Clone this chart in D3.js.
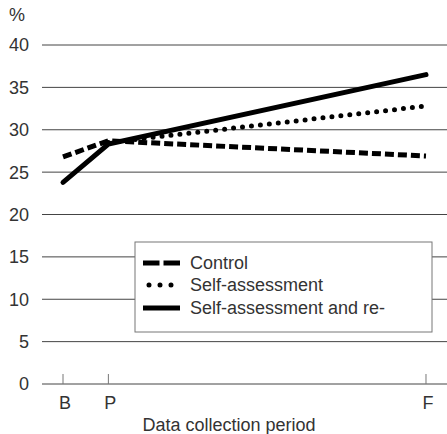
<!DOCTYPE html>
<meta charset="utf-8">
<script src="https://d3js.org/d3.v7.min.js"></script>
<style>
  body { margin: 0; background: #fff; }
  text { font-family: "Liberation Sans", Arial, sans-serif; fill: #333; font-size: 18px; }
</style>
<div id="chart"></div>
<script>
// data
const periods = ["B", "P", "F"];
const periodPos = [0, 1, 8];
const control = [26.8, 28.7, 26.9];
const selfAssess = [null, 28.5, 32.8];
const selfAssessRe = [23.8, 28.3, 36.5];
const yTicks = [0, 5, 10, 15, 20, 25, 30, 35, 40];
const seriesNames = ["Control", "Self-assessment", "Self-assessment and re-"];

const W = 447, H = 434;
const plotLeft = 42, plotRight = 447, plotTop = 45, plotBottom = 384;

const svg = d3.select("#chart").append("svg")
    .attr("width", W).attr("height", H);

const x = d3.scaleLinear().domain([-0.463, 8.463]).range([plotLeft, plotRight]);
const y = d3.scaleLinear().domain([0, 40]).range([plotBottom, plotTop]);

// grid lines + y labels
svg.append("g").selectAll("line").data(yTicks).join("line")
    .attr("x1", plotLeft).attr("x2", plotRight)
    .attr("y1", d => y(d)).attr("y2", d => y(d))
    .attr("stroke", "#444").attr("stroke-width", 1);

svg.append("g").selectAll("text").data(yTicks).join("text")
    .attr("x", 29).attr("y", d => y(d)).attr("dy", "0.36em")
    .attr("text-anchor", "end")
    .text(d => d);

svg.append("text").attr("x", 9).attr("y", 15).attr("dy", "0.36em").text("%");

// x ticks
svg.append("g").selectAll("line").data(periodPos).join("line")
    .attr("x1", d => x(d)).attr("x2", d => x(d))
    .attr("y1", plotBottom).attr("y2", plotBottom - 10)
    .attr("stroke", "#777").attr("stroke-width", 1);

svg.append("g").selectAll("text").data(periods).join("text")
    .attr("x", (d, i) => x(periodPos[i]) + 2).attr("y", 403).attr("dy", "0.36em")
    .attr("text-anchor", "middle")
    .text(d => d);

svg.append("text").attr("x", 229).attr("y", 425).attr("dy", "0.36em")
    .attr("text-anchor", "middle")
    .text("Data collection period");

// lines
const styles = [
  {dash: "9,4", cap: "butt"},
  {dash: "0,9", cap: "round"},
  {dash: null, cap: "round"}
];
const allSeries = [control, selfAssess, selfAssessRe];

const line = d3.line()
    .defined(d => d.v != null)
    .x(d => x(d.p)).y(d => y(d.v));

allSeries.forEach((vals, i) => {
  const pts = vals.map((v, j) => ({p: periodPos[j], v: v}));
  svg.append("path").datum(pts)
      .attr("d", line)
      .attr("fill", "none").attr("stroke", "#000")
      .attr("stroke-width", 5)
      .attr("stroke-linecap", styles[i].cap)
      .attr("stroke-dasharray", styles[i].dash);
});

// legend
const lg = svg.append("g").attr("transform", "translate(135,242)");
lg.append("rect").attr("width", 297).attr("height", 90)
    .attr("fill", "#fff").attr("stroke", "#777").attr("stroke-width", 1);

const legendY = [21, 43, 66];
seriesNames.forEach((name, i) => {
  const yy = legendY[i];
  lg.append("line")
      .attr("x1", i === 1 ? 14 : 8).attr("x2", i === 1 ? 37 : 45)
      .attr("y1", yy).attr("y2", yy)
      .attr("stroke", "#000").attr("stroke-width", 5)
      .attr("stroke-linecap", i === 1 ? "round" : "butt")
      .attr("stroke-dasharray", i === 0 ? "16.5,4" : i === 1 ? "0,11" : null);
  lg.append("text").attr("x", 55).attr("y", yy).attr("dy", "0.36em")
      .text(name);
});
</script>
